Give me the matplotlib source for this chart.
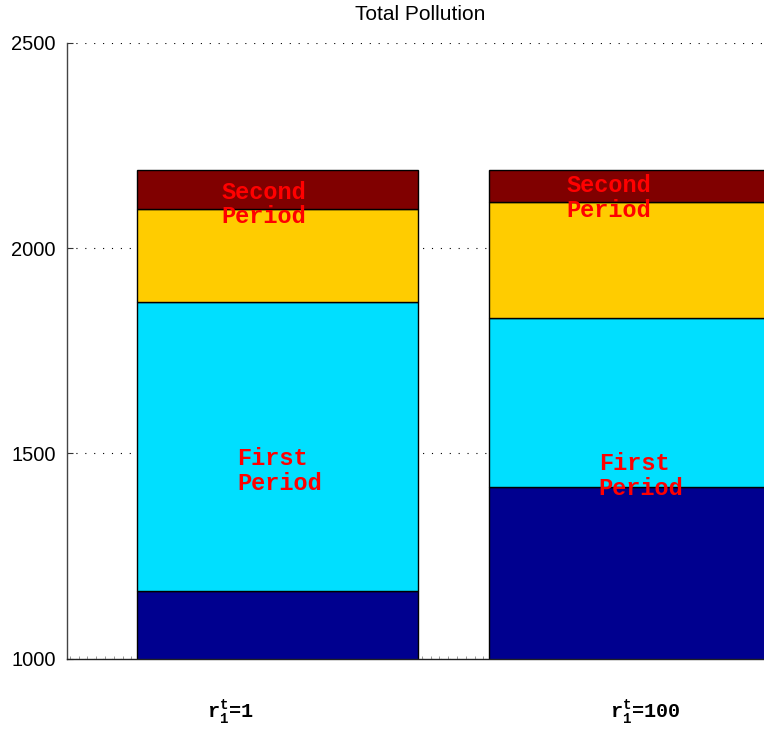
import matplotlib
matplotlib.use("Agg")
import matplotlib.pyplot as plt
import numpy as np

# ---- data ----
scenarios = ["r1t=1", "r1t=100"]
x_labels = [r"$\mathrm{r}_\mathrm{1}^\mathrm{t}$=1", r"$\mathrm{r}_\mathrm{1}^\mathrm{t}$=100"]
seg_first_a = [1164, 1418]    # dark blue (from 0)
seg_first_b = [705, 411]      # cyan
seg_second_a = [226, 283]     # yellow
seg_second_b = [95, 78]       # dark red
colors = ["#00008F", "#00DFFF", "#FFCC00", "#800000"]
y_ticks = [1000, 1500, 2000, 2500]
title = "Total Pollution"

plt.rcParams["mathtext.fontset"] = "custom"
plt.rcParams["mathtext.rm"] = "Liberation Mono:bold"
plt.rcParams["mathtext.it"] = "Liberation Mono:bold"

W, H = 764, 732
fig = plt.figure(figsize=(W / 100, H / 100), dpi=100)
left, right = 67 / W, 773 / W
bottom, top = 1 - 658.7 / H, 1 - 42.7 / H
ax = fig.add_axes([left, bottom, right - left, top - bottom])

x = np.arange(1, len(scenarios) + 1)
segments = [seg_first_a, seg_first_b, seg_second_a, seg_second_b]
base = np.zeros(len(scenarios))
for seg, c in zip(segments, colors):
    ax.bar(x, seg, bottom=base, width=0.8, color=c, edgecolor="black",
           linewidth=1.0, zorder=2)
    base = base + np.array(seg)

ax.set_xlim(0.402, 2.408)
ax.set_ylim(1000, 2500)
ax.set_yticks(y_ticks)
ax.set_yticklabels([str(v) for v in y_ticks], fontfamily="Liberation Sans", fontsize=14.5)
ax.yaxis.grid(True, linestyle=(0, (1, 7)), color="black", linewidth=0.8, zorder=0)
ax.set_axisbelow(True)
ax.tick_params(axis="y", direction="in", length=4, width=0.8, pad=8, color="#333333")
ax.set_xticks([])
ax.set_xticks(np.arange(0.41, 2.41, 0.025), minor=True)
ax.tick_params(axis="x", which="minor", direction="in", length=2, width=0.6, color="#888888")
for s in ["top", "right"]:
    ax.spines[s].set_visible(False)
ax.spines["left"].set_color("#444444")
ax.spines["left"].set_linewidth(1.0)
ax.spines["bottom"].set_color("#222222")
ax.spines["bottom"].set_linewidth(1.0)

# annotations
mono = dict(family="Liberation Mono", weight="bold", color="red", fontsize=17,
            ha="left", va="center", linespacing=1.1, zorder=5)
ax.text(0.842, 2106, "Second\nPeriod", **mono)
ax.text(1.822, 2122, "Second\nPeriod", **mono)
ax.text(0.885, 1457, "First\nPeriod", **mono)
ax.text(1.913, 1445, "First\nPeriod", **mono)

lab = dict(family="Liberation Mono", weight="bold", color="black", fontsize=14.5,
           ha="left", va="baseline", clip_on=False)
ax.text(0.80, 854, x_labels[0], **lab)
ax.text(1.945, 854, x_labels[1], **lab)

fig.text(420 / W, 1 - 15 / H, title, ha="center", va="center",
         fontfamily="Liberation Sans", fontsize=15)

fig.savefig("out.png", dpi=100)
